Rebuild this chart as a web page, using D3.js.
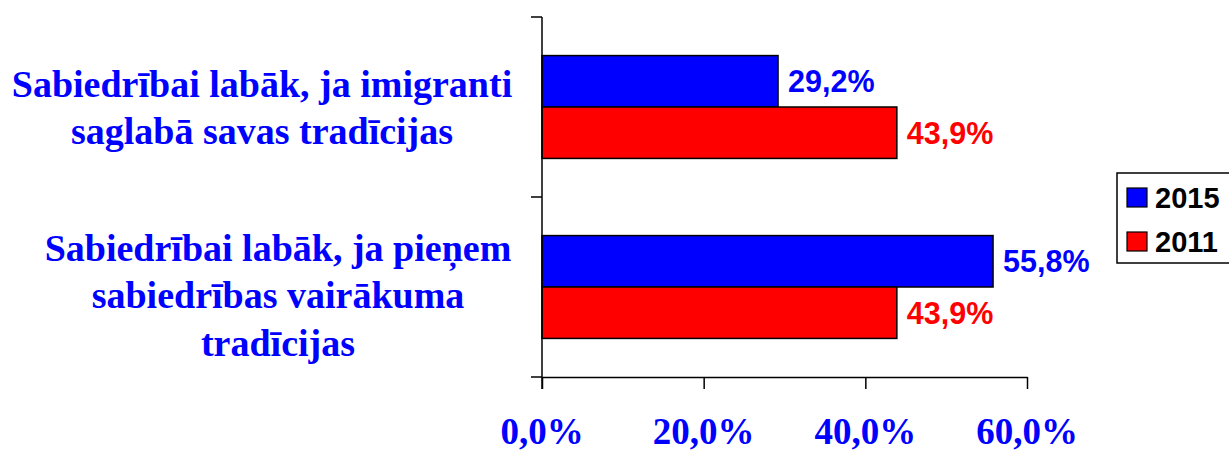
<!DOCTYPE html>
<html>
<head>
<meta charset="utf-8">
<script src="https://cdn.jsdelivr.net/npm/d3@7"></script>
<style>
  html, body { margin: 0; padding: 0; background: #fff; }
  svg { display: block; }
</style>
</head>
<body>
<svg id="chart" width="1229" height="452"></svg>
<script>
// ---- data ----
const categories = [
  ["Sabiedrībai labāk, ja imigranti", "saglabā savas tradīcijas"],
  ["Sabiedrībai labāk, ja pieņem", "sabiedrības vairākuma", "tradīcijas"]
];
const seriesNames = ["2015", "2011"];
const values2015 = [29.2, 55.8];
const values2011 = [43.9, 43.9];
const xTicks = [0, 20, 40, 60];
const seriesColors = ["#0000FF", "#FF0000"];

const seriesValues = [values2015, values2011];
const catKeys = categories.map((c, i) => "c" + i);

// layout
const LABEL_X = [262, 278];

const svg = d3.select("#chart");
const x = d3.scaleLinear().domain([0, 60]).range([542, 1027]);
const y0 = d3.scaleBand().domain(catKeys).range([17, 377]);
const y1 = d3.scaleBand().domain(seriesNames).range([0, y0.bandwidth()])
  .paddingInner(0).paddingOuter(0.75);

const fmt = v => d3.format(".1f")(v).replace(".", ",") + "%";

// bars
catKeys.forEach((k, ci) => {
  const g = svg.append("g").attr("transform", `translate(0,${y0(k)})`);
  seriesNames.forEach((s, si) => {
    const v = seriesValues[si][ci];
    g.append("rect")
      .attr("x", x(0))
      .attr("y", y1(s))
      .attr("width", x(v) - x(0))
      .attr("height", y1.bandwidth())
      .attr("fill", seriesColors[si])
      .attr("stroke", "#000")
      .attr("stroke-width", 1.5);
    g.append("text")
      .attr("x", x(v) + 10)
      .attr("y", y1(s) + y1.bandwidth() / 2 + 11)
      .attr("font-family", "Liberation Sans, Arial, sans-serif")
      .attr("font-weight", "bold")
      .attr("font-size", 30.5)
      .attr("fill", seriesColors[si])
      .text(fmt(v));
  });
});

// y axis
svg.append("line")
  .attr("x1", x(0)).attr("x2", x(0))
  .attr("y1", y0.range()[0]).attr("y2", y0.range()[1] + 12)
  .attr("stroke", "#000").attr("stroke-width", 1.5);
const yTickPos = catKeys.map(k => y0(k)).concat([y0.range()[1]]);
yTickPos.forEach(p => {
  svg.append("line")
    .attr("x1", x(0) - 11).attr("x2", x(0))
    .attr("y1", p).attr("y2", p)
    .attr("stroke", "#000").attr("stroke-width", 1.5);
});

// x axis
const xAxis = d3.axisBottom(x).tickValues(xTicks).tickSize(12).tickSizeOuter(0).tickFormat("");
const xg = svg.append("g").attr("transform", `translate(0,${y0.range()[1]})`).call(xAxis);
xg.select(".domain").attr("stroke-width", 1.5);
xg.selectAll(".tick line").attr("stroke-width", 1.5);
svg.selectAll(".xlab").data(xTicks).enter().append("text")
  .attr("x", d => x(d))
  .attr("y", 444)
  .attr("text-anchor", "middle")
  .attr("font-family", "Liberation Serif, Times New Roman, serif")
  .attr("font-weight", "bold")
  .attr("font-size", 37)
  .attr("fill", "#0000FF")
  .text(d => d3.format(".1f")(d).replace(".", ",") + "%");

// category labels
categories.forEach((lines, ci) => {
  const c = y0(catKeys[ci]) + y0.bandwidth() / 2;
  const n = lines.length;
  const off = 13.5 + (n - 2) * 7.5;
  const t = svg.append("text")
    .attr("text-anchor", "middle")
    .attr("font-family", "Liberation Serif, Times New Roman, serif")
    .attr("font-weight", "bold")
    .attr("font-size", 38)
    .attr("fill", "#0000FF");
  lines.forEach((ln, i) => {
    t.append("tspan")
      .attr("x", LABEL_X[ci])
      .attr("y", c + off + (i - (n - 1) / 2) * 47.5)
      .text(ln);
  });
});

// legend
const lg = svg.append("g");
lg.append("rect")
  .attr("x", 1117).attr("y", 173).attr("width", 130).attr("height", 90)
  .attr("fill", "#fff").attr("stroke", "#000").attr("stroke-width", 1.5);
seriesNames.forEach((s, i) => {
  const yy = 188 + i * 44;
  lg.append("rect")
    .attr("x", 1127).attr("y", yy).attr("width", 20).attr("height", 19)
    .attr("fill", seriesColors[i]).attr("stroke", "#000").attr("stroke-width", 1.2);
  lg.append("text")
    .attr("x", 1155).attr("y", yy + 19.5)
    .attr("font-family", "Liberation Sans, Arial, sans-serif")
    .attr("font-weight", "bold")
    .attr("font-size", 29)
    .attr("fill", "#000")
    .text(s);
});
</script>
</body>
</html>
